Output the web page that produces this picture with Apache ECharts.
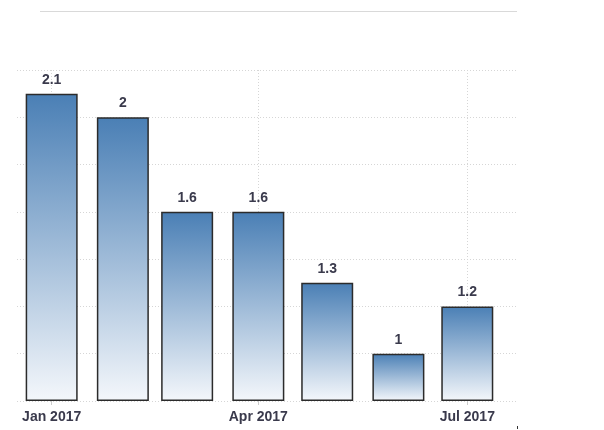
<!DOCTYPE html>
<html>
<head>
<meta charset="utf-8">
<script src="https://cdn.jsdelivr.net/npm/echarts@6/dist/echarts.min.js"></script>
<style>
html,body{margin:0;padding:0;background:#fff;}
#chart{width:604px;height:430px;}
</style>
</head>
<body>
<div id="chart"></div>
<script>
var months = ['2017-01', '2017-02', '2017-03', '2017-04', '2017-05', '2017-06', '2017-07'];
var values = [2.1, 2, 1.6, 1.6, 1.3, 1, 1.2];
var tickMonths = ['2017-01', '2017-04', '2017-07'];
var monthNames = ['Jan','Feb','Mar','Apr','May','Jun','Jul','Aug','Sep','Oct','Nov','Dec'];

var DAY = 86400000;
// x positions are measured in days since 2017-01-01 (UTC) so month lengths are respected
function toDay(s) {
  var p = s.split('-');
  return (Date.UTC(+p[0], +p[1] - 1, 1) - Date.UTC(2017, 0, 1)) / DAY;
}
function dayLabel(d) {
  var dt = new Date(Date.UTC(2017, 0, 1) + Math.round(d) * DAY);
  return monthNames[dt.getUTCMonth()] + ' ' + dt.getUTCFullYear();
}

var tickDays = tickMonths.map(toDay);
var xMin = toDay('2017-01') - 15.1;
var xMax = toDay('2017-07') + 21.65;

var chart = echarts.init(document.getElementById('chart'), null, {renderer: 'canvas'});
var font = 'Liberation Sans, Arial, sans-serif';
var textColor = '#3a3a4c';

chart.setOption({
  backgroundColor: '#ffffff',
  animation: false,
  grid: {left: 17, right: 87, top: 70, bottom: 29, containLabel: false},
  xAxis: {
    type: 'value',
    min: xMin,
    max: xMax,
    axisLine: {show: false},
    axisTick: {show: true, length: 4, lineStyle: {color: '#cccccc'}, customValues: tickDays},
    axisLabel: {
      customValues: tickDays,
      color: textColor,
      fontSize: 14,
      fontWeight: 'bold',
      fontFamily: font,
      margin: 9,
      formatter: function (v) { return dayLabel(v); }
    },
    splitLine: {show: true, lineStyle: {color: '#d6d6d6', type: [1, 2], width: 1}}
  },
  yAxis: {
    type: 'value',
    min: 0.8,
    max: 2.2,
    interval: 0.2,
    startValue: 0.8,
    axisLine: {show: false},
    axisTick: {show: false},
    axisLabel: {show: false},
    splitLine: {show: true, lineStyle: {color: '#d6d6d6', type: [1, 2], width: 1}}
  },
  series: [{
    type: 'bar',
    barWidth: 52,
    data: months.map(function (m, i) { return [toDay(m), values[i]]; }),
    itemStyle: {
      color: new echarts.graphic.LinearGradient(0, 0, 0, 1, [
        {offset: 0, color: '#4a7fb5'},
        {offset: 1, color: '#f4f7fb'}
      ]),
      borderColor: '#2b2b2b',
      borderWidth: 1.5
    },
    label: {
      show: true,
      position: 'top',
      distance: 7,
      color: textColor,
      fontSize: 14,
      fontWeight: 'bold',
      fontFamily: font,
      formatter: function (p) { return String(p.value[1]); }
    }
  }],
  graphic: [
    {type: 'line', shape: {x1: 40, y1: 11.5, x2: 517, y2: 11.5}, style: {stroke: '#d9d9d9', lineWidth: 1}, silent: true},
    {type: 'rect', shape: {x: 517, y: 426, width: 1, height: 3}, style: {fill: '#333333'}, silent: true}
  ]
});
</script>
</body>
</html>
